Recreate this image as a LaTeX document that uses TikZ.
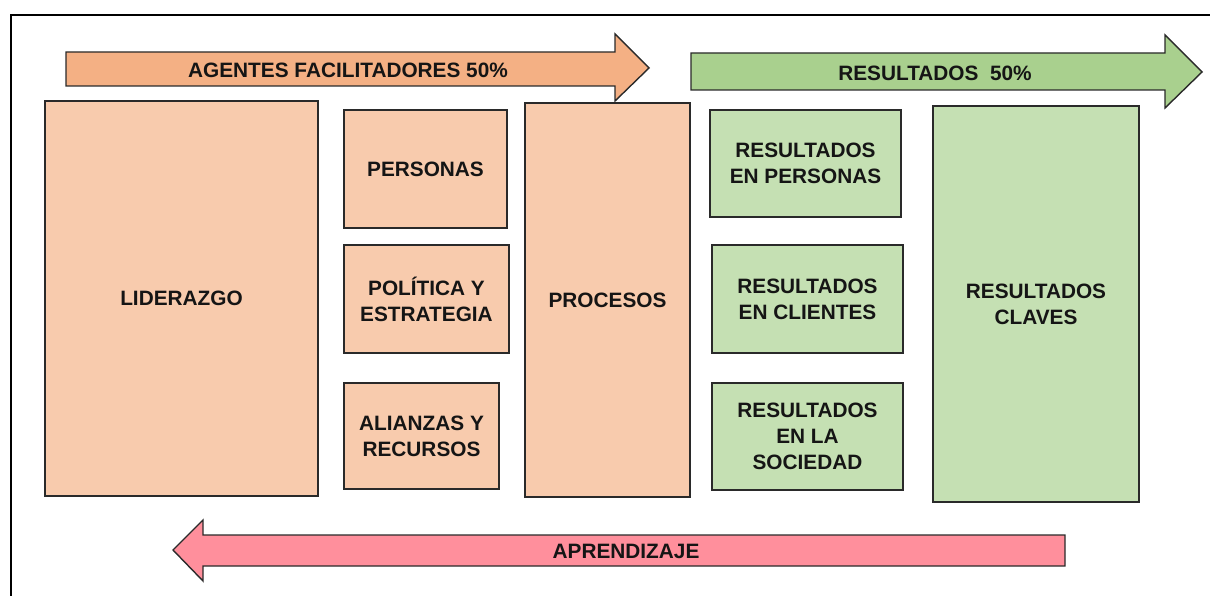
\documentclass[tikz,border=0pt]{standalone}
\usepackage{fontspec}
\setmainfont{Liberation Sans}
\definecolor{arrorange}{HTML}{F4B084}
\definecolor{boxorange}{HTML}{F8CBAD}
\definecolor{arrgreen}{HTML}{A9D08E}
\definecolor{boxgreen}{HTML}{C5E0B3}
\definecolor{arrpink}{HTML}{FF8F9C}
\definecolor{edge}{HTML}{2A2A2A}
\definecolor{ink}{HTML}{151515}
\tikzset{
  box/.style={draw=edge, line width=1.4pt, inner sep=0pt, align=center,
    font=\fontsize{20.8}{26}\selectfont\bfseries, text=ink},
  obox/.style={box, fill=boxorange},
  gbox/.style={box, fill=boxgreen},
  bigarrow/.style={draw=edge, line width=1.4pt, line join=miter},
  arrlabel/.style={font=\fontsize{20.8}{26}\selectfont\bfseries, text=ink, inner sep=0pt}
}
\begin{document}
\begin{tikzpicture}[x=1pt,y=-1pt]
\useasboundingbox (0,0) rectangle (1210,596);
% frame
\draw[line width=2pt, black] (11,597) -- (11,15) -- (1211,15);
% arrows
\draw[bigarrow, fill=arrorange] (66,52) -- (615,52) -- (615,34) -- (649,68) -- (615,101) -- (615,86) -- (66,86) -- cycle;
\draw[bigarrow, fill=arrgreen] (691,53) -- (1165,53) -- (1165,35) -- (1202,72) -- (1165,108) -- (1165,90) -- (691,90) -- cycle;
\draw[bigarrow, fill=arrpink] (1065,535) -- (203,535) -- (203,520) -- (173,550) -- (203,581) -- (203,566) -- (1065,566) -- cycle;
\node[arrlabel] (agentes) at (348,70) {AGENTES FACILITADORES 50\%};
\node[arrlabel] (result) at (935,73) {RESULTADOS\ \ 50\%};
\node[arrlabel] (aprend) at (626,551) {APRENDIZAJE};
% orange boxes
\node[obox, minimum width=273, minimum height=395] (lid) at (181.5,298.5) {LIDERAZGO};
\node[obox, minimum width=163, minimum height=118] (per) at (425.5,169) {PERSONAS};
\node[obox, minimum width=165, minimum height=108] (pol) at (426.5,299) {POLÍTICA Y\\ESTRATEGIA};
\node[obox, minimum width=155, minimum height=106] (ali) at (421.5,436) {ALIANZAS Y\\RECURSOS};
\node[obox, minimum width=165, minimum height=394] (pro) at (607.5,300) {PROCESOS};
% green boxes
\node[gbox, minimum width=191, minimum height=107] (rp) at (805.5,163.5) {RESULTADOS\\EN PERSONAS};
\node[gbox, minimum width=191, minimum height=108] (rc) at (807.5,299) {RESULTADOS\\EN CLIENTES};
\node[gbox, minimum width=191, minimum height=107] (rs) at (807.5,436.5) {RESULTADOS\\EN LA\\SOCIEDAD};
\node[gbox, minimum width=206, minimum height=396] (rk) at (1036,304) {RESULTADOS\\CLAVES};
\end{tikzpicture}
\end{document}
